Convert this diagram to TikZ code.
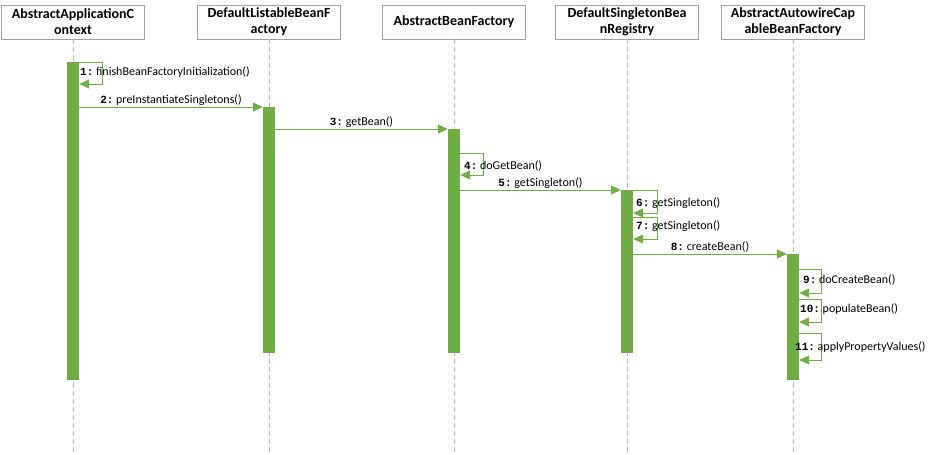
\documentclass[tikz,border=0pt]{standalone}
\usepackage{fontspec}
\setmainfont{Carlito}
\setmonofont{Liberation Mono}
\usetikzlibrary{arrows.meta}
\definecolor{umlgreen}{RGB}{112,173,71}
\definecolor{boxgrey}{RGB}{160,160,160}
\definecolor{lifegrey}{RGB}{185,185,185}
\tikzset{
  head/.style={draw=boxgrey, fill=white, align=center, font=\bfseries\fontsize{14}{16}\selectfont,
    minimum width=143, minimum height=34, inner sep=0pt},
  bar/.style={fill=umlgreen, draw=none, minimum width=12, inner sep=0pt, anchor=north},
  life/.style={draw=lifegrey, dash pattern=on 5pt off 3pt},
  msg/.style={draw=umlgreen, line width=0.8pt, -{Triangle[length=10pt,width=9pt]}},
  lbl/.style={font=\fontsize{12}{14}\selectfont, inner sep=1pt}
}
\newcommand{\msgnum}[1]{{\ttfamily\bfseries\fontsize{11}{14}\selectfont #1:}\ }
\begin{document}
\begin{tikzpicture}[x=1pt, y=-1pt]
      \useasboundingbox (0,0) rectangle (937,455);
      %% header boxes
      \node[head] (ctx)  at (73,22)  {AbstractApplicationC\\ontext};
      \node[head] (dlbf) at (269,22) {DefaultListableBeanF\\actory};
      \node[head] (abf)  at (454,22) {AbstractBeanFactory};
      \node[head] (dsbr) at (627,22) {DefaultSingletonBea\\nRegistry};
      \node[head] (aacbf) at (793,22) {AbstractAutowireCap\\ableBeanFactory};

      %% lifelines
      \foreach \h in {ctx,dlbf,abf,dsbr,aacbf} {
        \coordinate (\h-end) at (\h.south |- 0,453);
        \draw[life] (\h.south) -- (\h-end); }

      %% activation bars
      \node[bar, minimum height=318] (bctx)   at (73,62)   {};
      \node[bar, minimum height=246] (bdlbf)  at (269,107) {};
      \node[bar, minimum height=224] (babf)   at (454,129) {};
      \node[bar, minimum height=163] (bdsbr)  at (627,190) {};
      \node[bar, minimum height=126] (baacbf) at (793,254) {};

      %% calls between objects
      \draw[msg] (bctx.east |- 0,107) -- node[lbl, above] {\msgnum{2}preInstantiateSingletons()} (bdlbf.west |- 0,107);
      \draw[msg] (bdlbf.east |- 0,129) -- node[lbl, above] {\msgnum{3}getBean()} (babf.west |- 0,129);
      \draw[msg] (babf.east |- 0,190) -- node[lbl, above] {\msgnum{5}getSingleton()} (bdsbr.west |- 0,190);
      \draw[msg] (bdsbr.east |- 0,254) -- node[lbl, above] {\msgnum{8}createBean()} (baacbf.west |- 0,254);

      %% self calls
      \draw[msg] (bctx.east |- 0,62) -- ++(23,0) |- (bctx.east |- 0,84);
      \node[lbl, anchor=west] (l1) at (79,72) {\msgnum{1}finishBeanFactoryInitialization()};

      \draw[msg] (babf.east |- 0,153) -- ++(23,0) |- (babf.east |- 0,175);
      \node[lbl, anchor=west] (l4) at (463,166) {\msgnum{4}doGetBean()};

      \draw[msg] (bdsbr.east |- 0,190) -- ++(24,0) |- (bdsbr.east |- 0,213);
      \node[lbl, anchor=west] (l6) at (635,203) {\msgnum{6}getSingleton()};
      \draw[msg] (bdsbr.east |- 0,217) -- ++(24,0) |- (bdsbr.east |- 0,239);
      \node[lbl, anchor=west] (l7) at (635,226) {\msgnum{7}getSingleton()};

      \draw[msg] (baacbf.east |- 0,269) -- ++(22,0) |- (baacbf.east |- 0,293);
      \node[lbl, anchor=west] (l9) at (802,280) {\msgnum{9}doCreateBean()};
      \draw[msg] (baacbf.east |- 0,299) -- ++(22,0) |- (baacbf.east |- 0,322);
      \node[lbl, anchor=west] (l10) at (799,309) {\msgnum{10}populateBean()};
      \draw[msg] (baacbf.east |- 0,333) -- ++(22,0) |- (baacbf.east |- 0,360);
      \node[lbl, anchor=west] (l11) at (794,347) {\msgnum{11}applyPropertyValues()};
\end{tikzpicture}
\end{document}
